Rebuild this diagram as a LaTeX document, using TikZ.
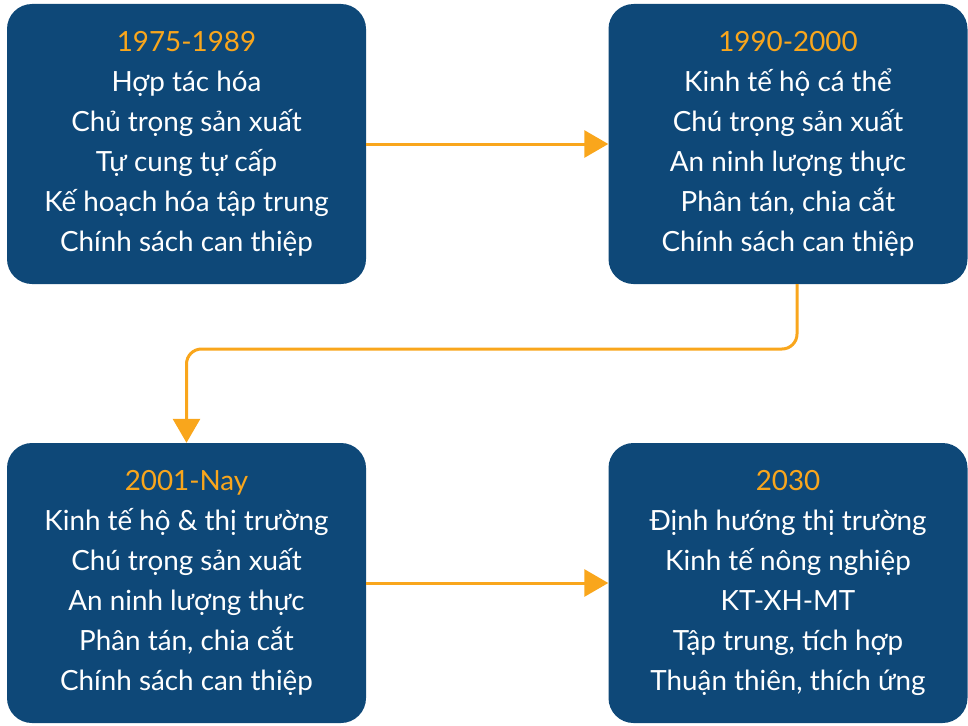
\documentclass[tikz,border=0pt]{standalone}
\usepackage{fontspec}
\setmainfont{Lato}
\usetikzlibrary{arrows.meta}
\definecolor{boxblue}{HTML}{0E4878}
\definecolor{accent}{HTML}{F9A61C}
\begin{document}
\begin{tikzpicture}[x=1pt,y=-1pt,
  period/.style={fill=boxblue, rounded corners=25pt, minimum width=359pt, minimum height=280pt,
    inner sep=0pt, text=white, align=center, font=\fontsize{27.8}{40}\selectfont},
  flow/.style={draw=accent, line width=3pt, -{Triangle[length=24pt,width=27pt]}, rounded corners=15pt}]
\useasboundingbox (0,0) rectangle (968,725);
\node[period] (a) at (186.5,144) {\textcolor{accent}{1975-1989}\\Hợp tác hóa\\Chủ trọng sản xuất\\Tự cung tự cấp\\Kế hoạch hóa tập trung\\Chính sách can thiệp};
\node[period] (b) at (788,144) {\textcolor{accent}{1990-2000}\\Kinh tế hộ cá thể\\Chú trọng sản xuất\\An ninh lượng thực\\Phân tán, chia cắt\\Chính sách can thiệp};
\node[period] (c) at (186.5,583) {\textcolor{accent}{2001-Nay}\\Kinh tế hộ \& thị trường\\Chú trọng sản xuất\\An ninh lượng thực\\Phân tán, chia cắt\\Chính sách can thiệp};
\node[period] (d) at (788,583) {\textcolor{accent}{2030}\\Định hướng thị trường\\Kinh tế nông nghiệp\\KT-XH-MT\\Tập trung, tích hợp\\Thuận thiên, thích ứng};
\coordinate (m) at (0,349);
\draw[flow] (a.east) -- (b.west);
\draw[flow] ([xshift=9pt]b.south) -- ([xshift=9pt]b.south |- m) -- (c.north |- m) -- (c.north);
\draw[flow] (c.east) -- (d.west);
\end{tikzpicture}
\end{document}
